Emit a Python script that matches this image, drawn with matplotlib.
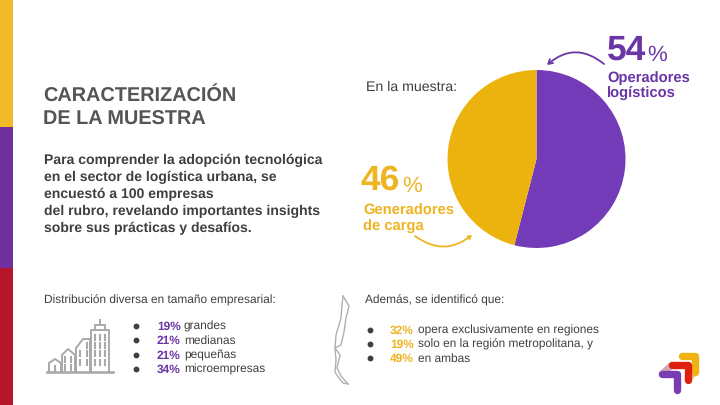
import matplotlib
matplotlib.use('Agg')
import matplotlib.pyplot as plt
from matplotlib.patches import Rectangle, FancyArrowPatch

plt.rcParams['font.family'] = ['Liberation Sans', 'DejaVu Sans']
plt.rcParams['text.hinting'] = 'no_hinting'

PURPLE = '#733bb8'
PURPLE_TXT = '#6a35a5'
GOLD = '#ecb30f'
GOLD_TXT = '#eeb422'
RED = '#b5162a'
DARK = '#3f3f3f'
GREY = '#a9a9a9'

# data
pie_labels = [['Operadores', 'logísticos'], ['Generadores', 'de carga']]
pie_values = [54, 46]
size_pct = ['19%', '21%', '21%', '34%']
size_names = ['grandes', 'medianas', 'pequeñas', 'microempresas']
region_pct = ['32%', '19%', '49%']
region_names = ['opera exclusivamente en regiones',
                'solo en la región metropolitana, y', 'en ambas']
body = ['Para comprender la adopción tecnológica',
        'en el sector de logística urbana, se',
        'encuestó a 100 empresas',
        'del rubro, revelando importantes insights',
        'sobre sus prácticas y desafíos.']

fig = plt.figure(figsize=(7.2, 4.05), dpi=100)
bg = fig.add_axes([0, 0, 1, 1])
bg.set_xlim(0, 720)
bg.set_ylim(405, 0)
bg.axis('off')

# side stripes
bg.add_patch(Rectangle((0, 0), 13, 127, color='#f2b929', lw=0))
bg.add_patch(Rectangle((0, 127), 13, 141, color='#7030a0', lw=0))
bg.add_patch(Rectangle((0, 268), 13, 137, color=RED, lw=0))

# title and body
bg.text(43, 101, 'CARACTERIZACIÓN', fontsize=14.3, fontweight='bold', color='#555555')
bg.text(43, 125, 'DE LA MUESTRA', fontsize=14.3, fontweight='bold', color='#555555')
for i, line in enumerate(body):
    bg.text(44, 164 + i * 17, line, fontsize=10.1, fontweight='bold', color=DARK)

bg.text(366, 91, 'En la muestra:', fontsize=10.2, color=DARK)

# pie
ax = fig.add_axes([447.5 / 720, 1 - 248 / 405, 178 / 720, 178 / 405])
ax.pie(pie_values, colors=[PURPLE, GOLD], startangle=90, counterclock=False, radius=1)
ax.set_xlim(-1, 1)
ax.set_ylim(-1, 1)

# big numbers
bg.text(607, 60, '54', fontsize=25.5, fontweight='bold', color=PURPLE_TXT)
bg.text(647, 61, '%', fontsize=16, color=PURPLE_TXT)
bg.text(607, 82, pie_labels[0][0], fontsize=10.6, fontweight='bold', color=PURPLE_TXT)
bg.text(607, 97, pie_labels[0][1], fontsize=10.6, fontweight='bold', color=PURPLE_TXT)
bg.text(360, 190, '46', fontsize=25.5, fontweight='bold', color=GOLD_TXT)
bg.text(402, 192, '%', fontsize=16, color=GOLD_TXT)
bg.text(363, 215, pie_labels[1][0], fontsize=10.6, fontweight='bold', color=GOLD_TXT)
bg.text(363, 231, pie_labels[1][1], fontsize=10.6, fontweight='bold', color=GOLD_TXT)

# curved arrows
bg.add_patch(FancyArrowPatch((604, 64), (547, 65), connectionstyle='arc3,rad=0.42', shrinkA=0, shrinkB=0,
                             arrowstyle='->,head_length=3,head_width=1.8', color=PURPLE_TXT, lw=1.3))
bg.add_patch(FancyArrowPatch((415, 236), (472, 235), connectionstyle='arc3,rad=0.38', shrinkA=0, shrinkB=0,
                             arrowstyle='->,head_length=2,head_width=1.2', color=GOLD_TXT, lw=1.3))

# bottom left list
bg.text(44, 304, 'Distribución diversa en tamaño empresarial:', fontsize=8.6, color=DARK)
for i in range(len(size_pct)):
    y = 326 + i * 14.3
    bg.plot(136, y, 'o', ms=3.2, color=DARK)
    bg.text(157, y + 4, size_pct[i], fontsize=8.6, fontweight='bold', color=PURPLE_TXT)
    bg.text(184, y + 4, size_names[i], fontsize=8.6, color=DARK)

# buildings icon
lw = 1.4
bg.plot([47, 113], [372, 372], color=GREY, lw=lw + 0.5)
bg.plot([49, 49, 55, 61, 61], [372, 363, 359, 363, 372], color=GREY, lw=lw)
bg.plot([62, 62, 68, 75, 75], [372, 355, 349, 355, 372], color=GREY, lw=lw)
bg.plot([76, 76, 83, 90, 90], [372, 348, 339, 339, 372], color=GREY, lw=lw)
bg.plot([91, 91, 109, 109], [372, 330, 330, 372], color=GREY, lw=lw)
bg.plot([95, 95, 105, 105], [330, 325, 325, 330], color=GREY, lw=lw)
bg.plot([100, 100], [320, 325], color=GREY, lw=lw)
for col in [95, 100, 105]:
    for row in [335, 343, 351, 360]:
        bg.plot([col, col], [row, row + 5], color=GREY, lw=1.5)
for col, rows in [(87, [343, 351, 360]), (80, [351, 360]), (71, [357, 365]), (65, [357, 365]), (55, [366])]:
    for row in rows:
        bg.plot([col, col], [row, row + 5], color=GREY, lw=1.5)

# chile outline
right_x = [343, 349, 346, 344, 341, 335, 340, 337, 341, 348]
right_y = [296, 306, 318, 332, 345, 348, 355, 368, 376, 384]
left_x = [343, 342, 341, 336, 335, 336, 335, 339, 343, 348]
left_y = [296, 305, 318, 335, 348, 360, 372, 378, 383, 384]
bg.plot(right_x, right_y, color='#b0b0b0', lw=1.0)
bg.plot(left_x, left_y, color='#b0b0b0', lw=1.0)

# bottom right list
bg.text(365, 304, 'Además, se identificó que:', fontsize=8.6, color=DARK)
for i in range(len(region_pct)):
    y = 330 + i * 14
    bg.plot(370, y, 'o', ms=3.2, color=DARK)
    bg.text(390, y + 4, region_pct[i], fontsize=8.6, fontweight='bold', color=GOLD_TXT)
    bg.text(418, y + 4, region_names[i], fontsize=8.6, color=DARK)

# logo
bg.plot([695, 688], [372, 379], color='#f0a030', lw=5, alpha=0.6, solid_capstyle='round')
bg.plot([672, 662], [365, 374], color='#c08090', lw=5, alpha=0.7, solid_capstyle='round')
bg.plot([682, 695, 695], [356, 356, 372], color='#efb311', lw=5.3, solid_capstyle='round', solid_joinstyle='round')
bg.plot([672, 688, 688], [365, 365, 380], color='#e0200e', lw=5.3, solid_capstyle='round', solid_joinstyle='round')
bg.plot([662, 677, 677], [374, 374, 390], color='#7a3cb5', lw=5.3, solid_capstyle='round', solid_joinstyle='round')

fig.savefig('out.png', dpi=100)
